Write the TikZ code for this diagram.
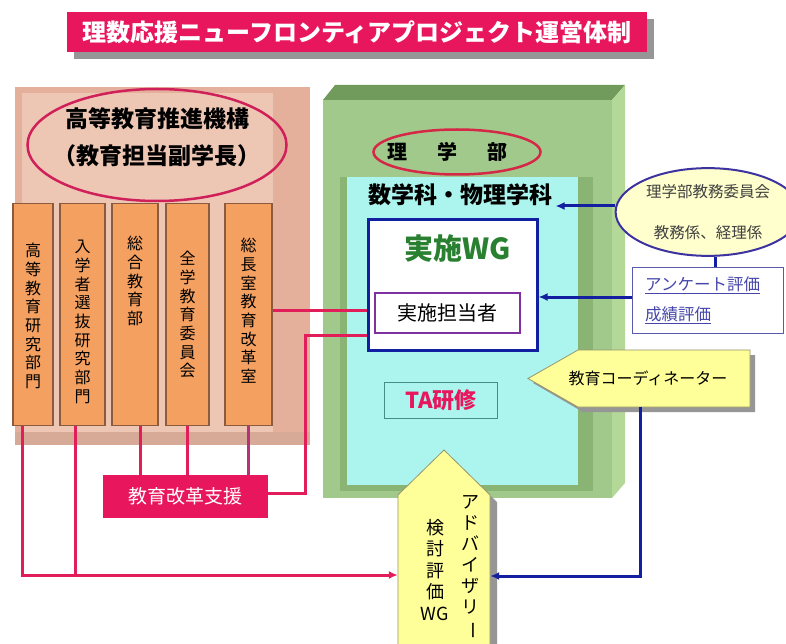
\documentclass[tikz,border=0pt]{standalone}
\usepackage{fontspec}
\usepackage{graphicx}
\setmainfont{Noto Sans CJK JP}
\usetikzlibrary{shapes.geometric,shadows,arrows.meta,calc}
\definecolor{mag}{RGB}{232,22,92}
\definecolor{redln}{RGB}{226,30,90}
\definecolor{redln5}{RGB}{180,50,120}
\definecolor{peachO}{RGB}{228,176,156}
\definecolor{peachI}{RGB}{238,198,180}
\definecolor{peachB}{RGB}{214,170,150}
\definecolor{orng}{RGB}{243,160,96}
\definecolor{orngB}{RGB}{140,90,60}
\definecolor{grF}{RGB}{162,201,140}
\definecolor{grT}{RGB}{112,155,92}
\definecolor{grS}{RGB}{180,216,152}
\definecolor{grD}{RGB}{138,180,116}
\definecolor{cyanF}{RGB}{171,245,238}
\definecolor{wgblue}{RGB}{16,32,160}
\definecolor{purp}{RGB}{128,48,160}
\definecolor{wggreen}{RGB}{40,128,48}
\definecolor{ylw}{RGB}{255,255,153}
\definecolor{ylwB}{RGB}{150,150,110}
\definecolor{lylw}{RGB}{255,255,205}
\definecolor{blueln}{RGB}{20,30,160}
\definecolor{ellB}{RGB}{60,50,160}
\definecolor{enqtxt}{RGB}{70,70,170}
\definecolor{enqB}{RGB}{90,90,170}
\definecolor{ellR}{RGB}{208,32,90}
\definecolor{rigR}{RGB}{212,40,70}
\definecolor{tealB}{RGB}{70,140,130}
\definecolor{shd}{RGB}{150,150,150}
\tikzset{
  titlebox/.style={rectangle, fill=mag, minimum width=580pt, minimum height=40pt, text=white,
    font=\bfseries\fontsize{24}{28}\selectfont,
    drop shadow={shadow xshift=7pt, shadow yshift=-7pt, fill=shd, opacity=1}},
  colbox/.style={rectangle, fill=orng, draw=orngB, line width=1.2pt, minimum height=222pt, anchor=north, inner sep=0pt},
  coltext/.style={align=center, font=\fontsize{16}{18.7}\selectfont, anchor=north, inner sep=0pt},
  redline/.style={draw=redln, line width=3pt},
  blueline/.style={draw=blueln, line width=3pt},
  tip/.style={-{Latex[length=9pt,width=8pt]}},
  ghost/.style={rectangle, draw=none, inner sep=0pt},
  vtext/.style={align=center, font=\fontsize{18}{21}\selectfont, anchor=north, inner sep=0pt},
}
\begin{document}
\begin{tikzpicture}[x=1pt,y=-1pt]
\useasboundingbox (0,0) rectangle (786,644);
\fill[white] (0,0) rectangle (786,644);

% title
\node[titlebox] (title) at (357,32) {理数応援ニューフロンティアプロジェクト運営体制};

% left organisation box
\fill[peachO] (15,87) rectangle (310,445);
\fill[peachB] (15,432) rectangle (310,445);
\fill[peachI] (22,93) rectangle (273,432);
\node[ellipse, draw=ellR, line width=2.5pt, minimum width=259pt, minimum height=112pt] (kiko) at (157,145) {};
\node[align=center, font=\bfseries\fontsize{23}{37}\selectfont] (kikot) at (157,137) {高等教育推進機構\\（教育担当副学長）};

\node[colbox, minimum width=40pt] (c1) at (33,203) {};
\node[colbox, minimum width=45pt] (c2) at (82.5,203) {};
\node[colbox, minimum width=46pt] (c3) at (135,203) {};
\node[colbox, minimum width=43pt] (c4) at (187.5,203) {};
\node[colbox, minimum width=47pt] (c5) at (248.5,203) {};
\node[coltext] (c1t) at (33,243) {高\\等\\教\\育\\研\\究\\部\\門};
\node[coltext] (c2t) at (82.5,240) {入\\学\\者\\選\\抜\\研\\究\\部\\門};
\node[coltext] (c3t) at (135,236) {総\\合\\教\\育\\部};
\node[coltext] (c4t) at (187.5,251) {全\\学\\教\\育\\委\\員\\会};
\node[coltext] (c5t) at (248.5,238) {総\\長\\室\\教\\育\\改\\革\\室};

% green 3D box of the faculty
\fill[grT] (323,100) -- (335,85) -- (625,85) -- (612,100) -- cycle;
\fill[grS] (612,100) -- (625,85) -- (625,483) -- (612,498) -- cycle;
\fill[grF] (323,100) rectangle (612,498);
\fill[grD] (340,177) rectangle (593,491);
\node[rectangle, fill=cyanF, minimum width=231pt, minimum height=308pt, anchor=north west, inner sep=0pt] (dept) at (347,177) {};

\node[ellipse, draw=rigR, line width=2.5pt, minimum width=167pt, minimum height=45pt] (rigaku) at (457,152) {};
\node[font=\bfseries\fontsize{20}{24}\selectfont] (rigakut) at (447,152) {理\hspace{30pt}学\hspace{30pt}部};
\node[font=\bfseries\fontsize{23}{27}\selectfont] (mathtxt) at (460,195) {数学科・物理学科};

\node[rectangle, draw=wgblue, line width=3pt, fill=white, minimum width=169pt, minimum height=130pt, inner sep=0pt] (wg) at (452.5,285) {};
\node[text=wggreen, font=\bfseries\fontsize{29}{33}\selectfont] (wgt) at (458,249) {実施WG};
\node[rectangle, draw=purp, line width=2.5pt, fill=white, minimum width=145pt, minimum height=40pt, font=\fontsize{20}{24}\selectfont] (tanto) at (447.5,313) {実施担当者};
\node[rectangle, draw=tealB, line width=1pt, minimum width=113pt, minimum height=36pt, text=mag, font=\bfseries\fontsize{22}{26}\selectfont] (ta) at (441,400) {TA研修};

% coordinator (left-pointing)
\fill[shd] (533,383) -- (583,355) -- (755,355) -- (755,412) -- (583,412) -- cycle;
\filldraw[fill=ylw, draw=ylwB, line width=0.8pt] (528,378.5) -- (578,350) -- (750,350) -- (750,407) -- (578,407) -- cycle;
\node[ghost, minimum width=172pt, minimum height=57pt] (coordb) at (664,378.5) {};
\node[font=\fontsize{16}{19}\selectfont] (coordt) at (648,378) {教育コーディネーター};

% advisory WG (up-pointing)
\fill[shd] (405,670) -- (405,502) -- (451,457) -- (497,502) -- (497,670) -- cycle;
\filldraw[fill=ylw, draw=ylwB, line width=0.8pt] (398,670) -- (398,495) -- (444,450) -- (490,495) -- (490,670) -- cycle;
\node[ghost, minimum width=92pt, minimum height=175pt] (advb) at (444,582) {};
\node[vtext] (advt1) at (470,495) {ア\\ド\\バ\\イ\\ザ\\リ\\\rotatebox[origin=c]{-90}{ー}};
\node[vtext, font=\fontsize{18}{21.5}\selectfont] (advt2) at (435,519) {検\\討\\評\\価\\WG};

% support box
\node[rectangle, fill=mag, minimum width=165pt, minimum height=43pt, text=white, font=\fontsize{19}{22}\selectfont] (kaikaku) at (185.5,496.5) {教育改革支援};

% right side
\node[ellipse, fill=lylw, draw=ellB, line width=2pt, minimum width=153pt, minimum height=84pt, align=center, text=black!75, font=\fontsize{15.5}{41}\selectfont] (rell) at (708,212) {理学部教務委員会\\教務係、経理係};
\node[rectangle, draw=enqB, line width=1pt, fill=white, minimum width=151pt, minimum height=66pt] (enq) at (707.5,300) {};
\node[anchor=west, text=enqtxt, font=\fontsize{16.5}{20}\selectfont, inner sep=0pt] (enq1) at (645,285) {\underline{アンケート評価}};
\node[anchor=west, text=enqtxt, font=\fontsize{16.5}{20}\selectfont, inner sep=0pt] (enq2) at (645,315) {\underline{成績評価}};

% red connectors
\coordinate (botL) at (22,575);
\coordinate (jB) at (305,335);
\draw[redline, tip] ([xshift=-11pt]c1.south) -- (botL) -- (botL -| advb.west);
\draw[redline] ([xshift=-7.5pt]c2.south) -- ([xshift=-7.5pt]c2.south |- botL);
\draw[redline] ([xshift=5pt]c3.south) -- ([xshift=5pt]c3.south |- kaikaku.north);
\draw[redline] (c4.south) -- (c4.south |- kaikaku.north);
\draw[redline, draw=redln5] (c5.south) -- (c5.south |- kaikaku.north);
\draw[redline] ([yshift=3pt]c5.east |- tanto.west) -- ([yshift=3pt]wg.west |- tanto.west);
\draw[redline] ([yshift=3pt]kaikaku.east) -| (jB) -- (jB -| wg.west);

% blue connectors
\coordinate (botR) at (640,576);
\draw[blueline, tip] ([yshift=6pt]rell.west) -- ([yshift=6pt]rell.west -| mathtxt.east);
\draw[blueline] ([xshift=7pt]rell.south) -- ([xshift=7pt]rell.south |- enq.north);
\draw[blueline, tip] ([yshift=3pt]enq.west) -- ([yshift=3pt]enq.west -| wg.east);
\draw[blueline, tip] (coordb.south -| botR) -- (botR) -- (botR -| advb.east);
\end{tikzpicture}
\end{document}
